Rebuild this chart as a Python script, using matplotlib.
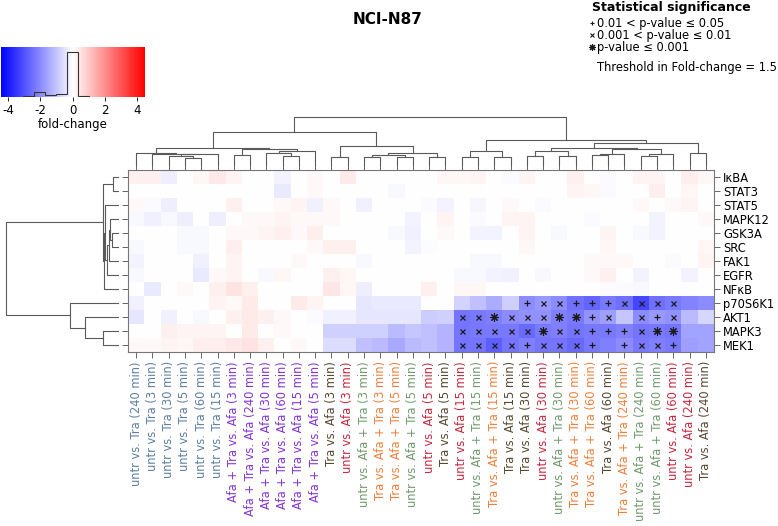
import numpy as np
import matplotlib
matplotlib.use("Agg")
import matplotlib.pyplot as plt

plt.rcParams["axes.unicode_minus"] = False

W, H = 778, 526

rows = ["IκBA", "STAT3", "STAT5", "MAPK12", "GSK3A", "SRC", "FAK1", "EGFR",
        "NFκB", "p70S6K1", "AKT1", "MAPK3", "MEK1"]

col_comp = (["untr vs. Tra"] * 6 + ["Afa + Tra vs. Afa"] * 6 +
            ["Tra vs. Afa", "untr vs. Afa", "untr vs. Afa + Tra", "Tra vs. Afa + Tra",
             "Tra vs. Afa + Tra", "untr vs. Afa + Tra", "untr vs. Afa", "Tra vs. Afa",
             "untr vs. Afa", "untr vs. Afa + Tra", "Tra vs. Afa + Tra", "Tra vs. Afa",
             "Tra vs. Afa", "untr vs. Afa", "untr vs. Afa + Tra", "Tra vs. Afa + Tra",
             "Tra vs. Afa + Tra", "Tra vs. Afa", "Tra vs. Afa + Tra", "untr vs. Afa + Tra",
             "untr vs. Afa + Tra", "untr vs. Afa", "untr vs. Afa", "Tra vs. Afa"])
col_time = [240, 3, 30, 5, 60, 15, 3, 240, 30, 60, 15, 5,
            3, 3, 3, 3, 5, 5, 5, 5, 15, 15, 15, 15, 30, 30, 30, 30,
            60, 60, 240, 240, 60, 60, 240, 240]
comp_colors = {"untr vs. Tra": "#5e7fa3", "Afa + Tra vs. Afa": "#8433d6",
               "Tra vs. Afa": "#56472f", "untr vs. Afa": "#c8283e",
               "untr vs. Afa + Tra": "#6f9a6c", "Tra vs. Afa + Tra": "#f07f3a"}

fold_change = [
 [.25,.25,-.3,0,.15,.4,.2,0,0,-.2,0,.12,0,.35,0,0,0,0,0,.15,.15,.2,0,-.08,.2,0,0,.25,0,-.08,0,.2,.2,0,.3,.15],
 [0,0,0,0,0,0,0,0,0,-.35,0,.12,0,0,0,0,-.12,0,0,0,0,0,0,0,0,0,0,.2,.15,-.08,0,0,.3,0,.15,0],
 [.12,-.1,-.3,0,0,0,.25,0,0,.12,.2,-.25,.12,0,-.25,0,0,0,-.1,-.2,0,-.15,0,.12,0,-.1,0,0,0,0,0,.12,0,.12,.2,0],
 [-.12,-.25,-.12,-.3,0,-.3,0,.12,.12,.2,.12,.12,.12,0,0,0,0,-.2,0,.2,0,-.1,0,.2,.2,0,0,0,-.08,0,0,0,-.2,0,0,.12],
 [0,0,0,-.12,-.12,0,.12,.12,.2,.25,.12,.3,0,0,0,0,-.12,-.25,0,.12,0,-.2,-.2,0,.2,0,-.12,0,0,.2,0,-.12,-.2,0,0,0],
 [-.12,0,0,-.12,-.12,0,.3,0,0,0,0,.12,.25,.25,0,0,0,-.2,-.05,0,0,0,0,0,.15,0,0,0,0,.15,0,0,0,0,0,.15],
 [-.2,0,0,0,-.25,0,.2,0,0,0,.12,0,0,0,-.12,0,0,0,0,0,0,-.12,-.12,0,0,0,0,0,.12,.12,.12,0,0,-.08,0,.2],
 [-.12,0,0,0,-.35,.12,.2,0,-.12,.15,0,0,.25,.15,0,0,0,0,0,0,-.12,-.12,-.2,-.25,0,-.12,0,0,.12,.25,0,-.2,0,0,-.2,0],
 [0,-.35,0,.12,0,.25,.5,.25,0,0,0,0,.45,.15,-.3,0,0,0,.25,0,.15,.15,0,0,0,0,0,0,0,-.08,-.08,-.12,0,0,0,0],
 [-.25,0,0,0,0,.2,.12,.35,0,0,.35,.2,0,0,-.45,-.35,-.35,-.35,0,0,-.75,-1.1,-1.45,-.85,-2.0,-1.8,-2.0,-2.5,-2.7,-2.3,-2.5,-3.2,-2.5,-2.3,-2.15,-2.0],
 [-.45,0,-.25,0,-.12,0,.25,.35,.25,.12,0,-.1,-.25,-.25,-.45,-.45,-.45,-.45,-.9,-.8,-2.4,-2.3,-2.2,-2.0,-1.9,-1.9,-2.2,-2.3,-1.9,-1.7,-1.0,-2.0,-1.8,-1.9,-1.2,-.7],
 [0,0,.25,.2,.2,.2,0,.35,0,.12,0,0,-.8,-.8,-.8,-.8,-1.2,-1.0,-1.1,-1.3,-2.4,-2.3,-2.3,-2.3,-2.6,-2.3,-2.2,-2.4,-2.3,-2.3,-2.2,-2.4,-2.3,-2.4,-1.6,-1.6],
 [.12,.12,.2,.15,.3,.3,.4,.5,.25,0,.12,0,-.6,-.6,-1.1,-1.2,-1.5,-1.2,-1.1,-1.3,-2.4,-2.4,-2.8,-2.4,-2.2,-2.4,-2.4,-2.6,-2.3,-2.2,-2.0,-2.3,-2.2,-2.3,-1.7,-1.6],
]

# significance codes per cell: '.' none, '+' 0.01<p<=0.05, 'x' 0.001<p<=0.01, '*' p<=0.001
significance = [
 "." * 36, "." * 36, "." * 36, "." * 36, "." * 36, "." * 36, "." * 36, "." * 36, "." * 36,
 "........................+xx+++xxxx..",
 "....................xx*xxx**+x.x+x..",
 "....................xxxxx*xx+++x**..",
 "....................xxxx+xxx+.+xx+..",
]

# ---- row dendrogram merges: (left, right, height); ints are row indices
r01 = (0, 1, 5.0)
r45 = (4, 5, 5.7)
r3_5 = (3, r45, 7.7)
r3_6 = (r3_5, 6, 8.3)
r3_7 = (r3_6, 7, 10.7)
r2_7 = (2, r3_7, 12.7)
r2_8 = (r2_7, 8, 14.0)
r_top = (r01, r2_8, 15.0)
r1112 = (11, 12, 14.3)
r10_12 = (10, r1112, 31.7)
r_bot = (9, r10_12, 46.7)
row_tree = (r_top, r_bot, 109.0)

# ---- column dendrogram merges
c34 = (3, 4, 24)
c2_4 = (2, c34, 28)
c2_5 = (c2_4, 5, 35)
c1_5 = (1, c2_5, 37)
c0_5 = (0, c1_5, 39)
c67 = (6, 7, 33)
c910 = (9, 10, 31)
c8_10 = (8, c910, 38)
c8_11 = (c8_10, 11, 45)
c6_11 = (c67, c8_11, 52)
c0_11 = (c0_5, c6_11, 57)
c1213 = (12, 13, 25)
c1415 = (14, 15, 25)
c1617 = (16, 17, 25)
c1819 = (18, 19, 25)
c14_17 = (c1415, c1617, 33)
c14_19 = (c14_17, c1819, 38)
c12_19 = (c1213, c14_19, 62)
c0_19 = (c0_11, c12_19, 107)
c2021 = (20, 21, 27)
c2223 = (22, 23, 27)
c20_23 = (c2021, c2223, 45)
c2425 = (24, 25, 30)
c2627 = (26, 27, 30)
c24_27 = (c2425, c2627, 47)
c2829 = (28, 29, 33)
c28_30 = (c2829, 30, 37)
c3132 = (31, 32, 30)
c31_33 = (c3132, 33, 35)
c28_33 = (c28_30, c31_33, 52)
c24_33 = (c24_27, c28_33, 55)
c3435 = (34, 35, 39)
c24_35 = (c24_33, c3435, 72)
c20_35 = (c20_23, c24_35, 83)
col_tree = (c0_19, c20_35, 158)

VMAX = 4.45
data = np.array(fold_change, dtype=float)
nr, nc = data.shape

fig = plt.figure(figsize=(W / 100, H / 100), dpi=100)


def fx(px):
    return px / W


def fy(py):
    return 1 - py / H


hm_l, hm_r, hm_t, hm_b = 128, 714, 170, 352
ax = fig.add_axes([fx(hm_l), fy(hm_b), fx(hm_r - hm_l), (hm_b - hm_t) / H])
ax.imshow(data, cmap="bwr", vmin=-VMAX, vmax=VMAX, aspect="auto", interpolation="nearest")
ax.set_xlim(-0.5, nc - 0.5)
ax.set_ylim(nr - 0.5, -0.5)
marker_style = {"+": dict(marker="+", ms=4.5, mew=0.9),
                "x": dict(marker="x", ms=3.6, mew=0.9),
                "*": dict(marker=(8, 2, 0), ms=6.0, mew=0.8)}
for r, srow in enumerate(significance):
    for c, ch in enumerate(srow):
        if ch in marker_style:
            ax.plot(c, r, color="#1a1a1a", linestyle="none", **marker_style[ch])
labels = [f"{cp} ({t} min)" for cp, t in zip(col_comp, col_time)]
ax.set_xticks(range(nc))
ax.set_xticklabels(labels, rotation=90, fontsize=8.3)
for tl, cp in zip(ax.get_xticklabels(), col_comp):
    tl.set_color(comp_colors[cp])
ax.set_yticks(range(nr))
ax.set_yticklabels(rows, fontsize=8.3)
ax.tick_params(top=True, bottom=True, left=True, right=True, labelleft=False,
               labelright=True, labelbottom=True, labeltop=False, length=4,
               width=0.7, color="#666666", pad=2.5)
for s in ax.spines.values():
    s.set_color("#777777")
    s.set_linewidth(0.8)


def layout(node, out):
    if isinstance(node, int):
        return float(node), 0.0
    a, b, h = node
    pa, ha = layout(a, out)
    pb, hb = layout(b, out)
    out.append((pa, ha, pb, hb, h))
    return (pa + pb) / 2, h


# row dendrogram
axr = fig.add_axes([fx(6), fy(hm_b), fx(118 - 6), (hm_b - hm_t) / H])
links = []
_, rootr = layout(row_tree, links)
for pa, ha, pb, hb, h in links:
    axr.plot([ha, h, h, hb], [pa, pa, pb, pb], color="#5a5a5a", lw=0.8, clip_on=False)
axr.set_ylim(nr - 0.5, -0.5)
axr.set_xlim(rootr, 0)
axr.axis("off")

# column dendrogram
axc = fig.add_axes([fx(hm_l), fy(165), fx(hm_r - hm_l), (165 - 117) / H])
links = []
_, rootc = layout(col_tree, links)
for pa, ha, pb, hb, h in links:
    axc.plot([pa, pa, pb, pb], [ha, h, h, hb], color="#5a5a5a", lw=0.8, clip_on=False)
axc.set_xlim(-0.5, nc - 0.5)
axc.set_ylim(0, rootc)
axc.axis("off")

# colorbar with histogram of the values
axb = fig.add_axes([fx(1), fy(97), fx(143), 50 / H])
grad = np.linspace(-VMAX, VMAX, 256)[None, :]
axb.imshow(grad, cmap="bwr", vmin=-VMAX, vmax=VMAX, aspect="auto",
           extent=[-VMAX, VMAX, 0, 1])
counts, edges = np.histogram(data.ravel(), bins=np.arange(-3.105, 1.1, 0.69))
axb.stairs(counts / counts.max() * 0.9, edges, color="#333333", lw=0.8)
axb.set_xlim(-VMAX, VMAX)
axb.set_ylim(0, 1)
axb.set_yticks([])
axb.set_xticks([-4, -2, 0, 2, 4])
axb.tick_params(labelsize=8.5, length=3, width=0.6, pad=2)
axb.set_xlabel("fold-change", fontsize=8.5, labelpad=1)
for s in axb.spines.values():
    s.set_visible(False)

fig.text(fx(388), fy(20), "NCI-N87", ha="center", va="center", fontsize=11,
         fontweight="bold")

# significance legend
fig.text(fx(592), fy(7), "Statistical significance", ha="left", va="center",
         fontsize=9, fontweight="bold")
leg_txt = ["0.01 < p-value ≤ 0.05", "0.001 < p-value ≤ 0.01", "p-value ≤ 0.001"]
leg_y = [23, 35, 47]
axl = fig.add_axes([0, 0, 1, 1], facecolor="none")
axl.set_xlim(0, W)
axl.set_ylim(H, 0)
axl.axis("off")
leg_marker = {"+": dict(marker="+", ms=3.5, mew=0.8),
              "x": dict(marker="x", ms=3.0, mew=0.8),
              "*": dict(marker=(8, 2, 0), ms=5.0, mew=0.8)}
for key, txt, yy in zip(["+", "x", "*"], leg_txt, leg_y):
    axl.plot(592, yy, color="#1a1a1a", linestyle="none", **leg_marker[key])
    fig.text(fx(597), fy(yy), txt, ha="left", va="center", fontsize=8.3)
fig.text(fx(597), fy(67), "Threshold in Fold-change = 1.5", ha="left", va="center",
         fontsize=8.3)

fig.savefig("out.png", dpi=100)
